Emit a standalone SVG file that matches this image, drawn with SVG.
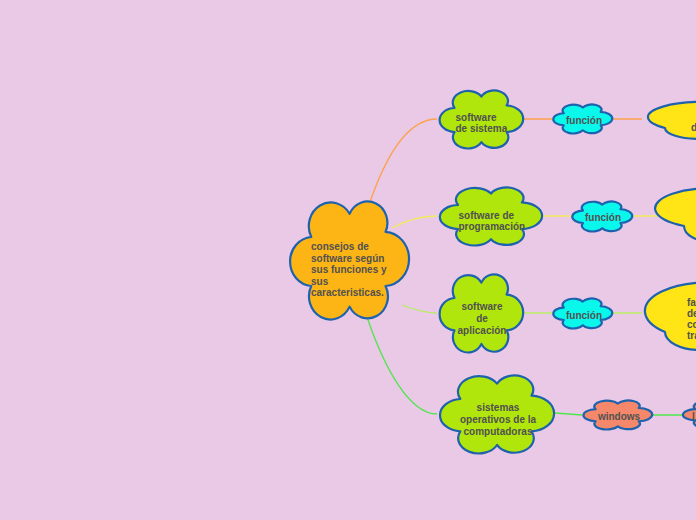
<svg xmlns="http://www.w3.org/2000/svg" width="696" height="520" viewBox="0 0 696 520">
<defs>
<style>
.bg{fill:#E9C9E5}
.cl{stroke:#1E62AE;stroke-width:2.2;stroke-linejoin:round}
.or{fill:#FDB515}
.gr{fill:#B0E60B}
.cy{fill:#0AF7EC}
.ye{fill:#FFE416}
.sa{fill:#F5886A}
.t{font-family:"Liberation Sans",Arial,sans-serif;font-size:10px;font-weight:bold;fill:#515151}
.m{text-anchor:middle}
.ln{fill:none;stroke-width:1.3}
.c1{stroke:#FDA24E}
.c2{stroke:#EFEC5A}
.c3{stroke:#B6EE62}
.c4{stroke:#4FE64C}
</style>
<path id="cloud" vector-effect="non-scaling-stroke" d="M18.8,30.1 A18.2,20.1 0 0 1 50.5,10.4 A16.3,18 0 0 1 80.2,25.7 A20.8,23 0 0 1 80.2,71.6 A16.8,18.6 0 0 1 50.5,89.1 A17.7,19.6 0 0 1 18.8,71.6 A18.8,20.8 0 0 1 18.8,30.1 Z"/>
</defs>
<rect class="bg" x="0" y="0" width="696" height="520"/>
<g id="connectors">
<path class="ln c1" d="M370,202 C388,150 410,119 437,119"/>
<path class="ln c2" d="M392,228 C405,221 418,216 437,216"/>
<path class="ln c3" d="M402,305 C415,310 425,313 437,313"/>
<path class="ln c4" d="M367,317 C385,370 410,414 437,414"/>
<path class="ln c1" d="M524,119 H552 M613,119 H642"/>
<path class="ln c2" d="M543,216 H571 M633,216 H661"/>
<path class="ln c3" d="M524,313 H552 M613,313 H642"/>
<path class="ln c4" d="M555,413 L582,415 M653,415 H682"/>
</g>
<g id="n-central">
<use href="#cloud" class="cl or" transform="translate(288.5,201.5) scale(1.21,1.18)"/>
<text class="t" x="311" y="250">consejos de</text>
<text class="t" x="311" y="261.5">software según</text>
<text class="t" x="311" y="273">sus funciones y</text>
<text class="t" x="311" y="284.5">sus</text>
<text class="t" x="311" y="296">caracteristicas.</text>
</g>
<g id="n-sistema">
<use href="#cloud" class="cl gr" transform="translate(438.5,90.5) scale(0.85,0.58)"/>
<text class="t" x="455.5" y="121">software</text>
<text class="t" x="455.5" y="132">de sistema</text>
</g>
<g id="n-programacion">
<use href="#cloud" class="cl gr" transform="translate(438.5,187.5) scale(1.04,0.58)"/>
<text class="t" x="458.5" y="218.5">software de</text>
<text class="t" x="458.5" y="229.5">programación</text>
</g>
<g id="n-aplicacion">
<use href="#cloud" class="cl gr" transform="translate(438.5,274.5) scale(0.85,0.78)"/>
<text class="t m" x="482" y="310">software</text>
<text class="t m" x="482" y="322">de</text>
<text class="t m" x="482" y="333.5">aplicación</text>
</g>
<g id="n-sistemas-operativos">
<use href="#cloud" class="cl gr" transform="translate(438.5,375.5) scale(1.16,0.78)"/>
<text class="t m" x="498" y="411">sistemas</text>
<text class="t m" x="498" y="423">operativos de la</text>
<text class="t m" x="498" y="434.5">computadoras</text>
</g>
<g id="n-funcion-1">
<use href="#cloud" class="cl cy" transform="translate(552.5,104.5) scale(0.6,0.29)"/>
<text class="t m" x="584" y="124">función</text>
</g>
<g id="n-funcion-2">
<use href="#cloud" class="cl cy" transform="translate(571.5,201.5) scale(0.61,0.3)"/>
<text class="t m" x="603" y="221">función</text>
</g>
<g id="n-funcion-3">
<use href="#cloud" class="cl cy" transform="translate(552.5,298.5) scale(0.6,0.3)"/>
<text class="t m" x="584" y="319">función</text>
</g>
<g id="n-windows">
<use href="#cloud" class="cl sa" transform="translate(582.5,400.5) scale(0.7,0.29)"/>
<text class="t m" x="619" y="420">windows</text>
</g>
<g id="n-yellow-1">
<path class="cl ye" d="M665,128 A54,15 0 1 1 740,106 L745,139 L700,139 A35,11 0 0 1 665,128 Z"/>
<text class="t" x="691" y="131">d</text>
</g>
<g id="n-yellow-2">
<path class="cl ye" d="M684,226 A55,20 0 1 1 760,200 L765,242 L712,242 A28,16 0 0 1 684,226 Z"/>
</g>
<g id="n-yellow-3">
<path class="cl ye" d="M665,332 A59,27 0 1 1 750,290 L755,350 L700,350 A35,18 0 0 1 665,332 Z"/>
<text class="t" x="687" y="306">fa</text>
<text class="t" x="687" y="317">de</text>
<text class="t" x="687" y="328">co</text>
<text class="t" x="687" y="339">tra</text>
</g>
<g id="n-salmon-2">
<use href="#cloud" class="cl sa" transform="translate(682,401) scale(0.7,0.27)"/>
<text class="t" x="692" y="420">l</text>
</g>
</svg>
